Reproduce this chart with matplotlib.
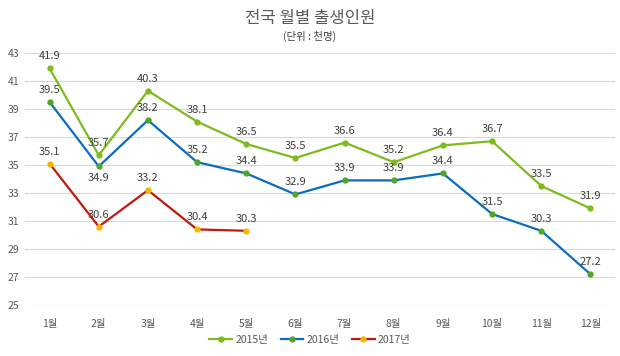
import matplotlib
matplotlib.use("Agg")
import matplotlib.pyplot as plt
import numpy as np

plt.rcParams['font.family'] = ['Noto Sans CJK KR', 'DejaVu Sans']

# 데이터
months = ["1월", "2월", "3월", "4월", "5월", "6월", "7월", "8월", "9월", "10월", "11월", "12월"]
y2015 = [41.9, 35.7, 40.3, 38.1, 36.5, 35.5, 36.6, 35.2, 36.4, 36.7, 33.5, 31.9]
y2016 = [39.5, 34.9, 38.2, 35.2, 34.4, 32.9, 33.9, 33.9, 34.4, 31.5, 30.3, 27.2]
y2017 = [35.1, 30.6, 33.2, 30.4, 30.3]
yticks = [25, 27, 29, 31, 33, 35, 37, 39, 41, 43]

fig = plt.figure(figsize=(6.2, 3.56), dpi=100)
ax = fig.add_axes([25 / 620, 1 - 305 / 356, 590 / 620, 252 / 356])

x = np.arange(len(months))
series = [
    (y2015, "2015년", "#7DBB1E", "#7DBB1E"),
    (y2016, "2016년", "#0B6CC0", "#4FA524"),
    (y2017, "2017년", "#C0190E", "#F5B800"),
]
for vals, lab, lc, mc in series:
    xs = x[:len(vals)]
    ax.plot(xs, vals, color=lc, lw=1.6, marker="o", ms=3.5,
            mfc=mc, mec=mc, label=lab)
    for xi, v in zip(xs, vals):
        below = (lab == "2016년" and xi == 1)
        ax.annotate(f"{v:.1f}", (xi, v), xytext=(0, -5 if below else 5),
                    textcoords="offset points", ha="center",
                    va="top" if below else "bottom", fontsize=8, color="#404040")

ax.set_xlim(-0.5, 11.5)
ax.set_ylim(25, 43)
ax.set_yticks(yticks)
ax.set_xticks(x)
ax.set_xticklabels(months)
ax.tick_params(length=0, labelsize=7.5, colors="#595959")
ax.tick_params(axis="y", pad=4)
ax.tick_params(axis="x", pad=10)
ax.grid(axis="y", color="#D9D9D9", lw=0.8)
ax.set_axisbelow(True)
for s in ax.spines.values():
    s.set_visible(False)

fig.text(0.5, 1 - 18 / 356, "전국 월별 출생인원", ha="center", va="center",
         fontsize=12, color="#595959")
fig.text(0.5, 1 - 36 / 356, "(단위 : 천명)", ha="center", va="center",
         fontsize=7.5, color="#404040")

fig.legend(loc="center", bbox_to_anchor=(0.5, 1 - 340 / 356), ncol=3, frameon=False,
           fontsize=7.5, handlelength=2.2, columnspacing=1.2, handletextpad=0.3,
           labelcolor="#595959")

fig.savefig("out.png", dpi=100)
